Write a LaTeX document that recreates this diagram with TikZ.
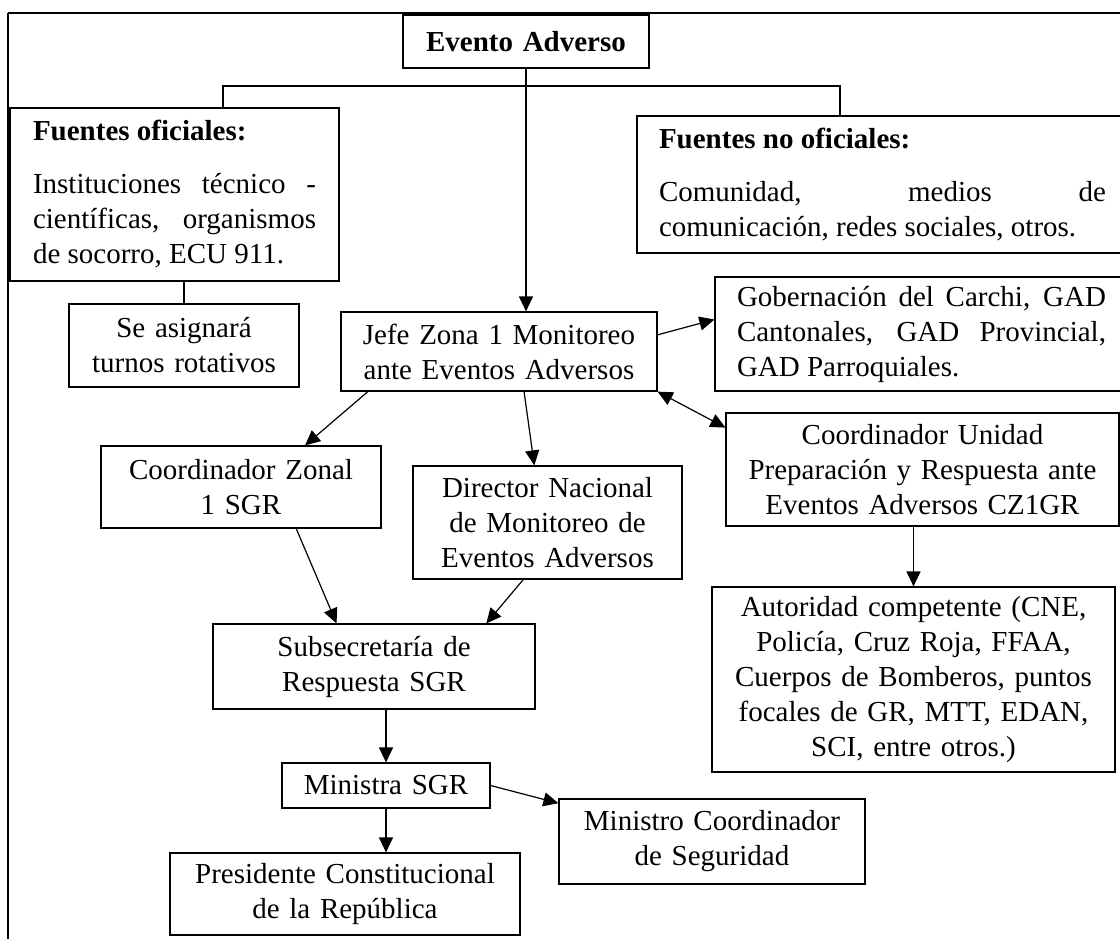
\documentclass[tikz,border=0pt]{standalone}
\usepackage{fontspec}
\setmainfont{Liberation Serif}
\usetikzlibrary{arrows.meta}

\begin{document}
\begin{tikzpicture}[x=0.5pt,y=-0.5pt,line width=0.6pt,>={Triangle[length=7.5pt,width=7pt]}]

      \useasboundingbox (0,0) rectangle (1120,939);
      \clip (0,0) rectangle (1120,939);

      % marco
      \draw[line width=0.8pt] (8,939) -- (8,13);
      \draw[line width=1.1pt] (8,13) -- (1120,13);

      \begin{scope}[every node/.style={draw, inner xsep=0pt, inner ysep=0pt, align=center,
          font=\fontsize{14.5pt}{17.5pt}\selectfont}]
        \node (evento)   at (526,41.5)  [text width=123pt, minimum height=26.5pt] {\textbf{Evento Adverso}};
        \node (ofic)     at (174.5,194.5) [text width=141.5pt, inner xsep=11.5pt, minimum height=86.5pt, align=justify]
          {\textbf{Fuentes oficiales:}\\[9pt]
           Instituciones técnico -\linebreak científicas, organismos\linebreak de socorro, ECU 911.};
        \node (noofic)   at (882.5,184.5) [text width=223.5pt, inner xsep=11pt, minimum height=68.5pt, align=justify]
          {\textbf{Fuentes no oficiales:}\\[9pt]
           Comunidad, medios de\linebreak comunicación, redes sociales, otros.};
        \node (turnos)   at (184,345.5)  [text width=115pt, minimum height=41.5pt] {Se asignará\\turnos rotativos};
        \node (jefe)     at (499,351.5)  [text width=158pt, minimum height=39.5pt] {Jefe Zona 1 Monitoreo\\ante Eventos Adversos};
        \node (gob)      at (921.5,334)  [text width=184.5pt, inner xsep=11pt, minimum height=57pt, align=justify]
          {Gobernación del Carchi, GAD\linebreak Cantonales, GAD Provincial,\linebreak GAD Parroquiales.};
        \node (zonal)    at (241,487)    [text width=140pt, minimum height=41pt] {Coordinador Zonal\\1 SGR};
        \node (director) at (547.5,522.5) [text width=134.5pt, minimum height=56.5pt] {Director Nacional\\de Monitoreo de\\Eventos Adversos};
        \node (unidad)   at (922.5,469.5) [text width=196.5pt, minimum height=56.5pt] {Coordinador Unidad\\Preparación y Respuesta ante\\Eventos Adversos CZ1GR};
        \node (autoridad) at (913.5,679.5) [text width=201.5pt, minimum height=92.5pt]
          {Autoridad competente (CNE,\\Policía, Cruz Roja, FFAA,\\Cuerpos de Bomberos, puntos\\focales de GR, MTT, EDAN,\\SCI, entre otros.)};
        \node (subsec)   at (374,666.5)  [text width=161pt, minimum height=42.5pt] {Subsecretaría de\\Respuesta SGR};
        \node (ministra) at (386,785.5)  [text width=104pt, minimum height=22.5pt] {Ministra SGR};
        \node (mcoord)   at (712,841.5)  [text width=153pt, minimum height=42.5pt] {Ministro Coordinador\\de Seguridad};
        \node (presidente) at (345,894)  [text width=175pt, minimum height=41pt] {Presidente Constitucional\\de la República};
      \end{scope}

      \coordinate (bl) at (223,86);
      \coordinate (br) at (840,86);

      \begin{scope}[every edge/.style={draw,->}]
        \draw (ofic.north -| bl) -- (bl) -- (br) -- (noofic.north -| br);
        \path (ofic.south -| turnos.north) edge[-] (turnos.north);
        \path (evento.south) edge (evento.south |- jefe.north);
        \path (jefe.6)     edge (gob.176);
        \path (jefe.south east) edge[<->] (unidad.168);
        \path (jefe.-163)  edge (zonal.33);
        \path (jefe.-58)   edge (director.103);
        \path (zonal.-37)  edge (subsec.131);
        \path (director.-113) edge (subsec.21);
        \path (autoridad.north |- unidad.south) edge (autoridad.north);
        \path (subsec.south -| ministra.north) edge (ministra.north);
        \path (ministra.south) edge (ministra.south |- presidente.north);
        \path (ministra.east) edge (mcoord.166);
      \end{scope}

    \end{tikzpicture}
\end{document}
